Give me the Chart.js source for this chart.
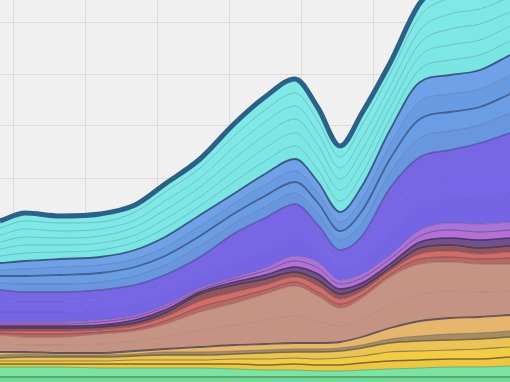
<!DOCTYPE html>
<html>
<head>
<meta charset="utf-8">
<script src="https://cdn.jsdelivr.net/npm/chart.js@4.4.1/dist/chart.umd.min.js"></script>
<style>
html,body{margin:0;padding:0;background:#f0f0f0;}
#wrap{width:510px;height:382px;position:relative;}
</style>
</head>
<body>
<div id="wrap"><canvas id="c"></canvas></div>
<script>
// x positions (time index)
const days = [0,25,60,100,135,165,200,235,265,295,318,340,362,390,420,450,480,510];
const xGrid = [13,85,157,229,301,373,445];
const yGrid = [48,100,152,204,256,308,360];

// layer thicknesses, bottom to top
const green1  = [5,5,5,5,5,5,5,5,5,5,5,5,5,5,5,5,5,5];
const green2  = [10,10,10,9,9,9,9,8,7,7,6,6,7,8,9,10,10,11];
const yellow1 = [3,3,3,4,4,4,4,5,5,6,6,6,7,8,8,8,8,9];
const yellow2 = [3,3,3,3,4,4,4,5,6,6,6,7,7,9,9,9,10,10];
const yellow3 = [3,4,4,4,4,5,5,5,6,6,7,7,8,9,10,10,10,10];
const tan1    = [3,3,2,2,2,3,3,3,3,3,3,3,3,4,5,6,6,6];
const tan2    = [3,2,2,2,3,3,5,6,6,6,6,6,8,11,15,16,16,16];
const brown1  = [8,7,8,9,10,12,17,20,24,27,22,16,18,24,27,27,25,24];
const brown2  = [9,8,8,10,10,13,18,22,26,30,25,18,21,27,30,29,28,27];
const red1    = [2,3,3,2,2,3,5,5,4,4,4,4,3,3,5,5,5,6];
const red2    = [2,3,3,2,3,4,6,6,5,5,6,5,4,3,5,6,5,6];
const red3    = [3,3,3,3,3,4,7,7,6,5,6,5,4,3,6,6,6,6];
const purple1 = [2,2,2,2,3,3,2,3,4,5,6,5,4,4,6,7,8,8];
const purple2 = [2,2,2,3,3,3,2,3,4,6,6,5,5,5,6,8,8,8];
const purple3 = [2,2,2,2,2,2,2,2,3,5,6,4,4,4,6,7,8,8];
const violet1 = [10,10,10,10,10,10,10,14,16,17,12,10,12,22,24,24,27,29];
const violet2 = [11,10,10,10,10,10,11,15,17,17,13,10,13,22,24,24,27,30];
const violet3 = [11,10,10,10,10,10,10,15,17,18,12,10,13,23,25,25,27,30];
const blue1   = [7,8,8,8,9,10,11,10,11,11,11,10,13,15,19,19,18,20];
const blue2   = [7,8,9,9,9,9,10,10,11,11,11,9,12,14,19,19,18,19];
const blue3   = [6,7,8,8,8,9,10,10,11,11,10,9,12,14,18,18,18,19];
const blue4   = [7,8,8,8,9,10,11,10,11,12,11,10,13,15,19,19,19,20];
const cyan1   = [7,8,7,7,8,9,9,12,13,13,12,11,12,11,13,15,15,14];
const cyan2   = [7,8,7,7,7,9,9,11,13,13,12,11,12,11,13,15,15,15];
const cyan3   = [7,8,7,7,8,9,10,12,13,14,13,11,12,11,13,16,16,14];
const cyan4   = [7,8,7,7,7,9,9,12,13,13,12,11,12,11,13,15,15,15];
const cyan5   = [7,8,8,7,8,9,10,11,12,13,12,11,13,12,14,16,16,15];
const cyan6   = [7,8,7,8,7,8,9,12,13,14,13,11,12,11,13,15,15,14];

const layers = [
  [green1,  '#74d898', 'rgba(70,140,95,0.9)', 1.5],
  [green2,  '#7de3a2', 'rgba(90,165,115,0.8)', 1],
  [yellow1, '#eec640', 'rgba(90,80,50,0.8)', 1.5],
  [yellow2, '#f2cc44', 'rgba(110,95,55,0.7)', 1.2],
  [yellow3, '#ecc455', 'rgba(100,85,60,0.8)', 1.5],
  [tan1,    '#a68c62', 'rgba(120,100,80,0.6)', 1],
  [tan2,    '#e6b66c', 'rgba(80,70,80,0.85)', 1.8],
  [brown1,  '#c49383', 'rgba(160,120,110,0.5)', 1],
  [brown2,  '#c59484', 'rgba(150,90,85,0.6)', 1],
  [red1,    '#b66a68', 'rgba(110,60,65,0.7)', 1],
  [red2,    '#d46d67', 'rgba(120,70,70,0.6)', 1],
  [red3,    '#8f5560', 'rgba(70,45,60,0.8)', 1.5],
  [purple1, '#72508e', 'rgba(60,40,80,0.8)', 1.5],
  [purple2, '#b46fd8', 'rgba(90,60,120,0.7)', 1],
  [purple3, '#a874d6', 'rgba(110,80,150,0.6)', 1],
  [violet1, '#7565e4', 'rgba(100,85,190,0.6)', 1],
  [violet2, '#7766e5', 'rgba(100,85,190,0.5)', 1],
  [violet3, '#7767e5', 'rgba(80,70,150,0.7)', 1.5],
  [blue1,   '#6897df', 'rgba(80,110,160,0.6)', 1],
  [blue2,   '#6b9de5', 'rgba(60,85,130,0.85)', 1.8],
  [blue3,   '#699be3', 'rgba(80,115,165,0.6)', 1],
  [blue4,   '#6ea1e7', 'rgba(55,75,115,0.9)', 1.8],
  [cyan1,   '#79e6e4', 'rgba(90,150,160,0.55)', 1],
  [cyan2,   '#7be8e6', 'rgba(90,150,160,0.5)', 1],
  [cyan3,   '#7ce8e6', 'rgba(90,150,160,0.55)', 1],
  [cyan4,   '#7de9e7', 'rgba(90,150,160,0.5)', 1],
  [cyan5,   '#7ee9e7', 'rgba(90,150,160,0.55)', 1],
  [cyan6,   '#7fe9e8', '#2b6189', 5]
];

const datasets = layers.map(([vals, fillCol, lineCol, w], i) => ({
  data: vals.map((v, k) => ({x: days[k], y: v})),
  backgroundColor: fillCol,
  borderColor: lineCol,
  borderWidth: w,
  fill: i === 0 ? 'origin' : '-1',
  pointRadius: 0,
  cubicInterpolationMode: 'monotone'
}));

const gridOpts = {color: '#dcdcdc', lineWidth: 1, drawTicks: false};

new Chart(document.getElementById('c'), {
  type: 'line',
  data: {datasets},
  options: {
    responsive: true,
    maintainAspectRatio: false,
    animation: false,
    layout: {padding: 0},
    plugins: {legend: {display: false}, tooltip: {enabled: false}},
    scales: {
      x: {
        type: 'linear', min: 0, max: 510,
        grid: gridOpts, border: {display: false},
        ticks: {display: false},
        afterBuildTicks: s => { s.ticks = xGrid.map(v => ({value: v})); }
      },
      y: {
        type: 'linear', stacked: true, min: 0, max: 382,
        grid: gridOpts, border: {display: false},
        ticks: {display: false},
        afterBuildTicks: s => { s.ticks = yGrid.map(v => ({value: v})); }
      }
    }
  }
});
</script>
</body>
</html>
